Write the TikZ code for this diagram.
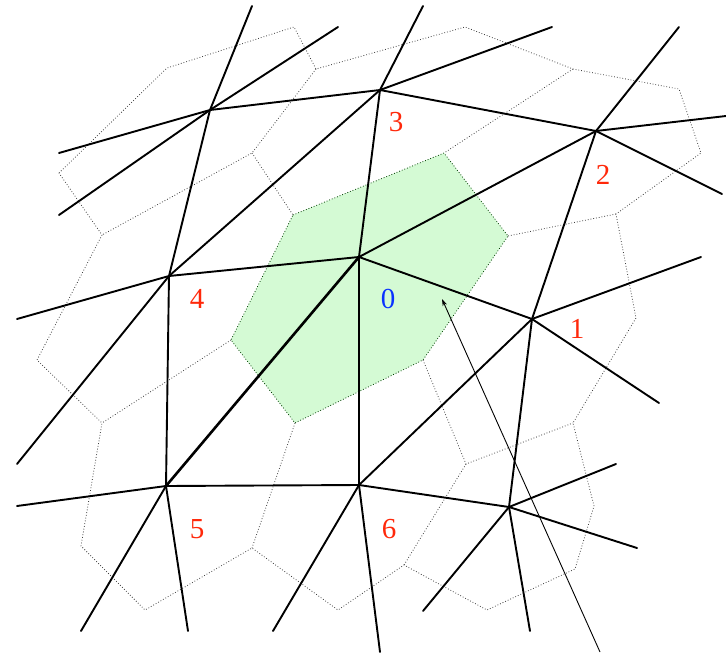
\documentclass[tikz,border=0pt]{standalone}
\usepackage{fontspec}
\setmainfont{Liberation Serif}
\usetikzlibrary{arrows.meta}
\definecolor{cellgreen}{RGB}{212,250,212}
\definecolor{lblred}{RGB}{255,40,10}
\definecolor{lblblue}{RGB}{10,50,255}
\tikzset{
  edge/.style={line width=1.9pt, line cap=round},
  thickedge/.style={line width=2.6pt, line cap=round},
  cell/.style={dotted, line width=0.8pt, black!75},
  lbl/.style={font=\fontsize{29}{29}\selectfont, text=lblred, inner sep=0pt},
  pt/.style={inner sep=0pt, minimum size=0pt},
}
\begin{document}
\begin{tikzpicture}[x=1pt,y=-1pt]
\useasboundingbox (0,0) rectangle (726,653);
% Voronoi vertices
\coordinate (v1) at (167,68);
\coordinate (v2) at (294,27);
\coordinate (v3) at (316,69);
\coordinate (v4) at (465,27);
\coordinate (v5) at (573,69);
\coordinate (v6) at (679,89);
\coordinate (v7) at (701,153);
\coordinate (v8) at (616,214);
\coordinate (v9) at (636,318);
\coordinate (v10) at (573,423);
\coordinate (v11) at (594,506);
\coordinate (v12) at (575,569);
\coordinate (v13) at (487,610);
\coordinate (v14) at (404,565);
\coordinate (v15) at (338,610);
\coordinate (v16) at (252,548);
\coordinate (v17) at (145,610);
\coordinate (v18) at (81,546);
\coordinate (v19) at (102,423);
\coordinate (v20) at (37,360);
\coordinate (v21) at (102,235);
\coordinate (v22) at (59,173);
\coordinate (v23) at (252,153);
\coordinate (v24) at (466,464);
% green cell vertices
\coordinate (g1) at (293,215);
\coordinate (g2) at (444,153);
\coordinate (g3) at (508,236);
\coordinate (g4) at (423,360);
\coordinate (g5) at (295,423);
\coordinate (g6) at (231,340);
% green cell
\fill[cellgreen] (g1) -- (g2) -- (g3) -- (g4) -- (g5) -- (g6) -- cycle;
\draw[cell, black!60!green!60!black] (g1) -- (g2) -- (g3) -- (g4) -- (g5) -- (g6) -- cycle;
% dotted cells
\draw[cell] (v22) -- (v1) -- (v2) -- (v3) -- (v4) -- (v5) -- (v6) -- (v7) -- (v8) -- (v9) -- (v10) -- (v11) -- (v12) -- (v13) -- (v14) -- (v15) -- (v16) -- (v17) -- (v18) -- (v19) -- (v20) -- (v21) -- cycle;
\draw[cell] (v3) -- (v23) -- (v21);
\draw[cell] (v23) -- (g1);
\draw[cell] (v5) -- (g2);
\draw[cell] (v8) -- (g3);
\draw[cell] (g4) -- (v24) -- (v10);
\draw[cell] (v24) -- (v14);
\draw[cell] (g5) -- (v16);
\draw[cell] (g6) -- (v19);
% graph nodes
\node[pt] (a) at (210,110) {};
\node[pt] (n3) at (380,90) {};
\node[pt] (n2) at (596,131) {};
\node[pt] (n0) at (359,257) {};
\node[pt] (n4) at (169,276) {};
\node[pt] (n1) at (532,319) {};
\node[pt] (n5) at (166,486) {};
\node[pt] (n6) at (359,485) {};
\node[pt] (n7) at (509,507) {};
% free ends
\coordinate (ea1) at (252,6);
\coordinate (ea2) at (338,27);
\coordinate (ea3) at (59,153);
\coordinate (ea4) at (59,215);
\coordinate (e31) at (423,6);
\coordinate (e32) at (552,27);
\coordinate (e21) at (679,27);
\coordinate (e22) at (726,116);
\coordinate (e23) at (722,194);
\coordinate (e41) at (17,319);
\coordinate (e42) at (17,464);
\coordinate (e51) at (17,506);
\coordinate (e52) at (81,631);
\coordinate (e53) at (188,631);
\coordinate (e61) at (273,631);
\coordinate (e62) at (380,652);
\coordinate (e11) at (701,257);
\coordinate (e12) at (659,403);
\coordinate (e71) at (616,464);
\coordinate (e72) at (637,548);
\coordinate (e73) at (423,611);
\coordinate (e74) at (530,631);
% edges
\draw[edge] (a.center) -- (ea1);
\draw[edge] (a.center) -- (ea2);
\draw[edge] (a.center) -- (ea3);
\draw[edge] (a.center) -- (ea4);
\draw[edge] (a.center) -- (n3.center);
\draw[edge] (a.center) -- (n4.center);
\draw[edge] (n3.center) -- (e31);
\draw[edge] (n3.center) -- (e32);
\draw[edge] (n3.center) -- (n2.center);
\draw[edge] (n3.center) -- (n0.center);
\draw[edge] (n3.center) -- (n4.center);
\draw[edge] (n2.center) -- (e21);
\draw[edge] (n2.center) -- (e22);
\draw[edge] (n2.center) -- (e23);
\draw[edge] (n2.center) -- (n0.center);
\draw[edge] (n2.center) -- (n1.center);
\draw[edge] (n0.center) -- (n1.center);
\draw[edge] (n0.center) -- (n4.center);
\draw[thickedge] (n0.center) -- (n5.center);
\draw[edge] (n0.center) -- (n6.center);
\draw[edge] (n4.center) -- (n5.center);
\draw[edge] (n4.center) -- (e41);
\draw[edge] (n4.center) -- (e42);
\draw[edge] (n5.center) -- (e51);
\draw[edge] (n5.center) -- (e52);
\draw[edge] (n5.center) -- (e53);
\draw[edge] (n5.center) -- (n6.center);
\draw[edge] (n6.center) -- (e61);
\draw[edge] (n6.center) -- (e62);
\draw[edge] (n6.center) -- (n1.center);
\draw[edge] (n6.center) -- (n7.center);
\draw[edge] (n1.center) -- (n7.center);
\draw[edge] (n1.center) -- (e11);
\draw[edge] (n1.center) -- (e12);
\draw[edge] (n7.center) -- (e71);
\draw[edge] (n7.center) -- (e72);
\draw[edge] (n7.center) -- (e73);
\draw[edge] (n7.center) -- (e74);
% arrow
\coordinate (arrS) at (600,652);
\coordinate (arrT) at (442,299);
\draw[line width=0.9pt, -{Stealth[length=7pt,width=4.5pt]}] (arrS) -- (arrT);
% labels
\node[lbl] (l3) at (396,122) {3};
\node[lbl] (l2) at (603,175) {2};
\node[lbl] (l4) at (197,299) {4};
\node[lbl, text=lblblue] (l0) at (388,299) {0};
\node[lbl] (l1) at (577,329) {1};
\node[lbl] (l5) at (197,529) {5};
\node[lbl] (l6) at (389,529) {6};
\end{tikzpicture}
\end{document}
